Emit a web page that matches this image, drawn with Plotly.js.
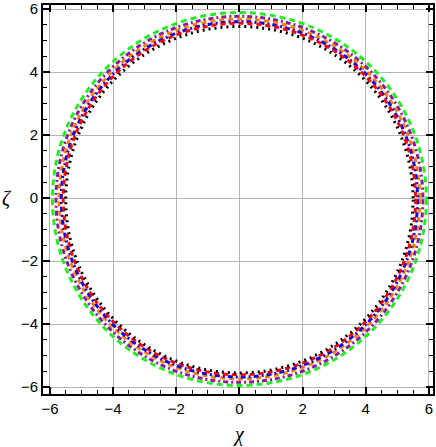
<!DOCTYPE html>
<html>
<head>
<meta charset="utf-8">
<script src="https://cdn.plot.ly/plotly-3.0.1.min.js"></script>
<style>
  body { margin: 0; background: #fff; }
  #plotArea { width: 436px; height: 447px; }
</style>
</head>
<body>
<div id="plotArea"></div>
<script>
// rings, outermost first
var names = ["green", "purple", "orange", "blue", "red", "black"];
var radii = [5.92, 5.81, 5.71, 5.64, 5.58, 5.5];
var centerY = [-0.03, -0.04, -0.03, -0.04, -0.03, -0.05];
var colors = ["#22ee22", "#8a1a9a", "#ff8000", "#0000ff", "#ff0000", "#000000"];
var dashes = ["6px,4px", "5px,3px,2px,3px", "5px,4px", "5px,3px,2px,3px", "5px,4px", "2px,4px"];

var tickVals = [-6, -4, -2, 0, 2, 4, 6];

var shapes = [];
for (var i = 0; i < radii.length; i++) {
    shapes.push({
        type: "circle", xref: "x", yref: "y",
        x0: -radii[i], x1: radii[i],
        y0: centerY[i] - radii[i], y1: centerY[i] + radii[i],
        line: {color: colors[i], width: 3, dash: dashes[i]}
    });
}

var axisStyle = {
    showline: true, linecolor: "black", linewidth: 2, mirror: "ticks",
    ticks: "inside", ticklen: 7, tickwidth: 1.5, tickcolor: "black",
    tickvals: tickVals,
    showgrid: true, gridcolor: "#b4b4b4", gridwidth: 1,
    zeroline: false,
    minor: {ticks: "inside", dtick: 0.5, ticklen: 4, tickcolor: "black", tickwidth: 1, showgrid: false},
    tickfont: {family: "Liberation Sans, Arial, sans-serif", size: 15, color: "black"}
};

var layout = {
    width: 436, height: 447,
    margin: {l: 43, r: 3, t: 5, b: 53},
    showlegend: false,
    xaxis: Object.assign({}, axisStyle, {range: [-6.22, 6.13]}),
    yaxis: Object.assign({}, axisStyle, {range: [-6.22, 6.13]}),
    shapes: shapes,
    annotations: [
        {text: "χ", xref: "x", yref: "paper", x: 0, y: -0.105, xanchor: "center", yanchor: "middle",
         showarrow: false,
         font: {family: "Liberation Serif, serif", size: 20, color: "black", style: "italic"}},
        {text: "ζ", xref: "paper", yref: "y", x: -0.092, y: 0, xanchor: "center", yanchor: "middle",
         showarrow: false,
         font: {family: "Liberation Serif, serif", size: 20, color: "black", style: "italic"}}
    ],
    plot_bgcolor: "white", paper_bgcolor: "white"
};

Plotly.newPlot("plotArea", [{x: [], y: [], type: "scatter", mode: "lines"}], layout, {displayModeBar: false});
</script>
</body>
</html>
